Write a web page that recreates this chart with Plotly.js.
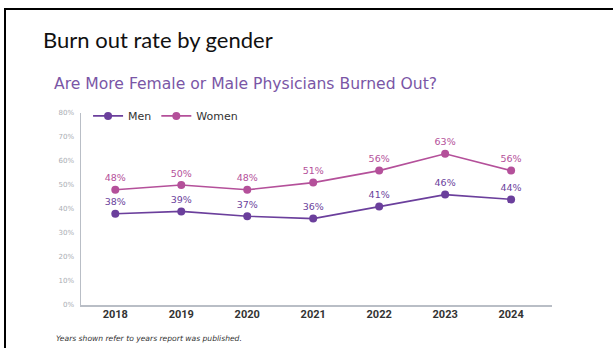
<!DOCTYPE html>
<html>
<head>
<meta charset="utf-8">
<script src="https://cdn.plot.ly/plotly-3.0.1.min.js"></script>
<style>
  html, body { margin: 0; padding: 0; background: #fff; }
  #wrap { position: relative; width: 613px; height: 348px; overflow: hidden; }
  #frame { position: absolute; left: 4px; top: 8px; width: 640px; height: 400px;
           border-top: 2px solid #000; border-left: 2px solid #000; pointer-events: none; z-index: 5; }
  #chart { position: absolute; left: 0; top: 0; width: 613px; height: 348px; }
</style>
</head>
<body>
<div id="wrap">
  <div id="chart"></div>
  <div id="frame"></div>
</div>
<script>
const years = ["2018", "2019", "2020", "2021", "2022", "2023", "2024"];
const men = [38, 39, 37, 36, 41, 46, 44];
const women = [48, 50, 48, 51, 56, 63, 56];
const yTicks = [0, 10, 20, 30, 40, 50, 60, 70, 80];
const yTickLabels = ["0%", "10%", "20%", "30%", "40%", "50%", "60%", "70%", "80%"];

const menColor = "#6b3f9c";
const womenColor = "#b4509a";

function series(name, vals, color) {
  return {
    type: "scatter",
    mode: "lines+markers+text",
    name: name,
    x: years,
    y: vals,
    text: vals.map(v => v + "%"),
    textposition: "top center",
    textfont: { family: "DejaVu Sans", size: 9.5, color: color },
    line: { color: color, width: 1.6 },
    marker: { color: color, size: 8 },
    cliponaxis: false,
    hoverinfo: "skip"
  };
}

const data = [series("Men", men, menColor), series("Women", women, womenColor)];

const layout = {
  width: 613,
  height: 348,
  margin: { l: 81, r: 61, t: 113, b: 43 },
  paper_bgcolor: "#fff",
  plot_bgcolor: "#fff",
  showlegend: true,
  legend: {
    orientation: "h",
    x: 0.015, xanchor: "left",
    y: 0.985, yanchor: "middle",
    font: { family: "DejaVu Sans", size: 11, color: "#333" },
    bgcolor: "rgba(0,0,0,0)",
    itemwidth: 30,
    tracegroupgap: 0
  },
  title: {
    text: "Burn out rate by gender",
    font: { family: "Lato", size: 22, color: "#111" },
    xref: "container", yref: "container",
    x: 43 / 613, xanchor: "left",
    y: 1 - 40 / 348, yanchor: "middle"
  },
  xaxis: {
    type: "category",
    range: [-0.52, 6.62],
    showgrid: false,
    zeroline: false,
    showline: true,
    linecolor: "#b9bec6",
    linewidth: 1.5,
    ticks: "",
    ticklabelstandoff: -2,
    tickfont: { family: "Roboto", size: 11, color: "#333", weight: "bold" },
    fixedrange: true
  },
  yaxis: {
    range: [0, 80],
    tickvals: yTicks,
    ticktext: yTickLabels,
    showgrid: false,
    zeroline: false,
    showline: true,
    linecolor: "#b9bec6",
    linewidth: 1.5,
    ticks: "",
    ticklabelstandoff: 4,
    tickfont: { family: "DejaVu Sans", size: 7, color: "#a9adb3" },
    fixedrange: true
  },
  annotations: [
    {
      text: "Are More Female or Male Physicians Burned Out?",
      xref: "paper", yref: "paper",
      x: (52 - 81) / 471, xanchor: "left",
      y: (305 - 84) / 192, yanchor: "middle",
      showarrow: false,
      font: { family: "DejaVu Sans", size: 15.6, color: "#7a56a6" }
    },
    {
      text: "<i>Years shown refer to years report was published.</i>",
      xref: "paper", yref: "paper",
      x: (54 - 81) / 471, xanchor: "left",
      y: (305 - 338) / 192, yanchor: "middle",
      showarrow: false,
      font: { family: "DejaVu Sans", size: 7.6, color: "#333" }
    }
  ]
};

Plotly.newPlot("chart", data, layout, { displayModeBar: false, staticPlot: true });
</script>
</body>
</html>
